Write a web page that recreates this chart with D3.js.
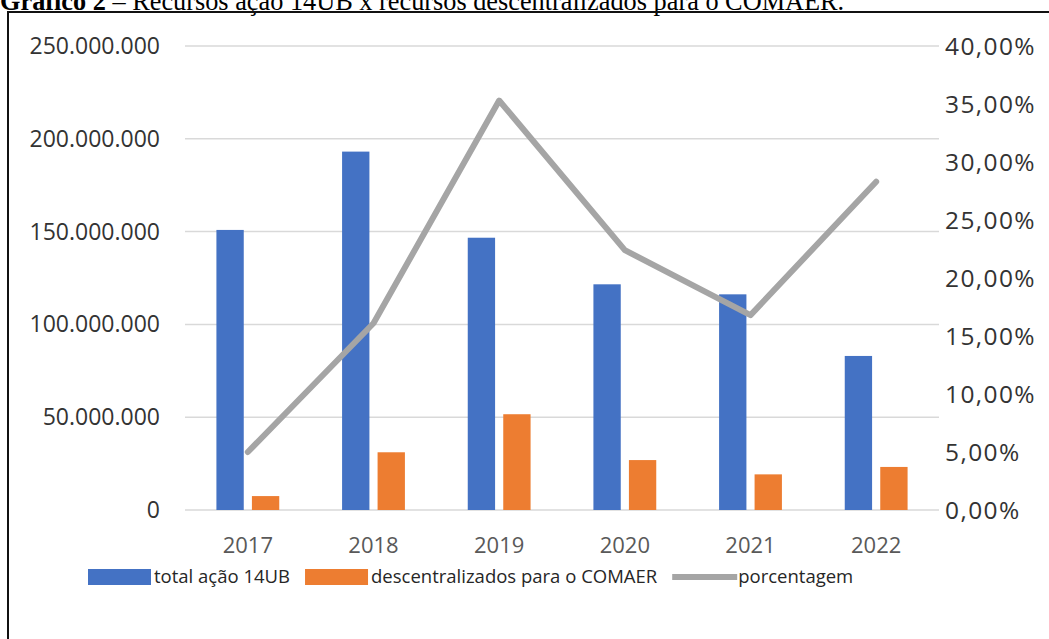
<!DOCTYPE html>
<html>
<head>
<meta charset="utf-8">
<script src="https://cdn.jsdelivr.net/npm/d3@7"></script>
<style>
  body { margin: 0; background: #fff; }
  svg { display: block; }
  .tick-label { font-family: "Open Sans", sans-serif; font-size: 23px; fill: #333; }
  .pct-label { font-family: "Open Sans", sans-serif; font-size: 24.5px; letter-spacing: 1.4px; fill: #333; }
  .year-label { font-family: "Open Sans", sans-serif; font-size: 22px; fill: #595959; }
  .legend-label { font-family: "Open Sans", sans-serif; font-size: 18.5px; fill: #262626; }
  .title { font-family: "Liberation Serif", "Times New Roman", serif; font-size: 26.3px; fill: #000; }
</style>
</head>
<body>
<svg></svg>
<script>
const width = 1049;
const height = 639;

// Data
const years = ["2017", "2018", "2019", "2020", "2021", "2022"];
const totalAcao = [150900000, 193100000, 146700000, 121600000, 116200000, 83000000];
const descentralizados = [7500000, 31100000, 51600000, 26900000, 19200000, 23200000];
const porcentagem = [0.050, 0.161, 0.353, 0.224, 0.168, 0.283];

const leftTicks = [0, 50000000, 100000000, 150000000, 200000000, 250000000];
const rightTicks = [0, 0.05, 0.10, 0.15, 0.20, 0.25, 0.30, 0.35, 0.40];

const seriesNames = ["total ação 14UB", "descentralizados para o COMAER", "porcentagem"];
const colors = ["#4472C4", "#ED7D31", "#A5A5A5"];

const plot = { left: 185, right: 939, top: 46, bottom: 510 };

const svg = d3.select("svg")
    .attr("width", width)
    .attr("height", height);

// Title (partly cut off at the top in the original)
const title = svg.append("text")
    .attr("class", "title")
    .attr("x", 0)
    .attr("y", 10);
title.append("tspan").attr("font-weight", "bold").text("Gráfico 2");
title.append("tspan").text(" – Recursos ação 14UB x recursos descentralizados para o COMAER.");

// Frame
svg.append("path")
    .attr("d", `M8,${height + 10} L8,12 L${width + 10},12`)
    .attr("fill", "none")
    .attr("stroke", "#111")
    .attr("stroke-width", 2);

// Scales
const x0 = d3.scaleBand()
    .domain(years)
    .range([plot.left, plot.right])
    .paddingInner(0.5)
    .paddingOuter(0.25);

const x1 = d3.scaleBand()
    .domain([0, 1])
    .range([0, x0.bandwidth()])
    .paddingInner(0.23);

const yLeft = d3.scaleLinear()
    .domain([0, 250000000])
    .range([plot.bottom, plot.top]);

const yRight = d3.scaleLinear()
    .domain([0, 0.40])
    .range([plot.bottom, plot.top]);

const fmtLeft = d3.formatLocale({ decimal: ",", thousands: ".", grouping: [3], currency: ["R$", ""] }).format(",d");
const fmtRight = d => d3.format(".2f")(d * 100).replace(".", ",") + "%";

// Gridlines
svg.append("g")
    .selectAll("line")
    .data(leftTicks)
    .join("line")
    .attr("x1", plot.left)
    .attr("x2", plot.right)
    .attr("y1", d => yLeft(d))
    .attr("y2", d => yLeft(d))
    .attr("stroke", "#D9D9D9")
    .attr("stroke-width", 1.5);

// Left axis labels
svg.append("g")
    .selectAll("text")
    .data(leftTicks)
    .join("text")
    .attr("class", "tick-label")
    .attr("x", 160)
    .attr("y", d => yLeft(d))
    .attr("dy", "0.35em")
    .attr("text-anchor", "end")
    .text(fmtLeft);

// Right axis labels
svg.append("g")
    .selectAll("text")
    .data(rightTicks)
    .join("text")
    .attr("class", "pct-label")
    .attr("x", 945)
    .attr("y", d => yRight(d))
    .attr("dy", "0.35em")
    .attr("text-anchor", "start")
    .text(fmtRight);

// Category labels
svg.append("g")
    .selectAll("text")
    .data(years)
    .join("text")
    .attr("class", "year-label")
    .attr("x", d => x0(d) + x0.bandwidth() / 2)
    .attr("y", 545)
    .attr("dy", "0.35em")
    .attr("text-anchor", "middle")
    .text(d => d);

// Bars
const barSeries = [totalAcao, descentralizados];
barSeries.forEach((values, si) => {
    svg.append("g")
        .selectAll("rect")
        .data(values)
        .join("rect")
        .attr("x", (d, i) => x0(years[i]) + x1(si))
        .attr("width", x1.bandwidth())
        .attr("y", d => yLeft(d))
        .attr("height", d => yLeft(0) - yLeft(d))
        .attr("fill", colors[si]);
});

// Percentage line
const line = d3.line()
    .x((d, i) => x0(years[i]) + x0.bandwidth() / 2)
    .y(d => yRight(d));

svg.append("path")
    .datum(porcentagem)
    .attr("d", line)
    .attr("fill", "none")
    .attr("stroke", colors[2])
    .attr("stroke-width", 6)
    .attr("stroke-linejoin", "round")
    .attr("stroke-linecap", "round");

// Legend
const legend = svg.append("g").attr("transform", "translate(88,577)");
let lx = 0;
seriesNames.forEach((name, i) => {
    const item = legend.append("g").attr("transform", `translate(${lx},0)`);
    if (i < 2) {
        item.append("rect")
            .attr("x", 0)
            .attr("y", -8)
            .attr("width", 63)
            .attr("height", 16)
            .attr("fill", colors[i]);
    } else {
        item.append("line")
            .attr("x1", 0)
            .attr("x2", 65)
            .attr("y1", 0)
            .attr("y2", 0)
            .attr("stroke", colors[i])
            .attr("stroke-width", 6);
    }
    const t = item.append("text")
        .attr("class", "legend-label")
        .attr("x", 66)
        .attr("y", 0)
        .attr("dy", "0.35em")
        .text(name);
    lx += 66 + t.node().getComputedTextLength() + 15;
});
</script>
</body>
</html>
